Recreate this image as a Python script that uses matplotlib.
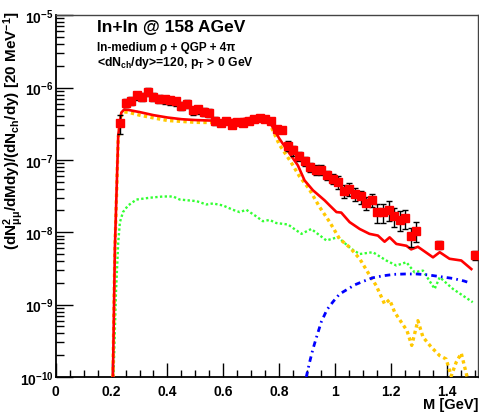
import matplotlib
matplotlib.use("Agg")
import matplotlib.pyplot as plt
import numpy as np
from matplotlib.ticker import MultipleLocator, LogLocator, NullFormatter

plt.rcParams['font.family'] = ['Liberation Sans', 'DejaVu Sans']
plt.rcParams['font.weight'] = 'bold'
plt.rcParams['mathtext.fontset'] = 'custom'
plt.rcParams['mathtext.rm'] = 'Liberation Sans:bold'
plt.rcParams['mathtext.it'] = 'Liberation Sans:bold'
plt.rcParams['mathtext.bf'] = 'Liberation Sans:bold'
plt.rcParams['mathtext.default'] = 'regular'

# measured dimuon excess points
mass = [0.23, 0.25, 0.27, 0.29, 0.31, 0.33, 0.35, 0.37, 0.39, 0.41,
        0.43, 0.45, 0.47, 0.49, 0.51, 0.53, 0.55, 0.57, 0.59, 0.61,
        0.63, 0.65, 0.67, 0.69, 0.71, 0.73, 0.75, 0.77, 0.79, 0.81,
        0.83, 0.85, 0.87, 0.89, 0.91, 0.93, 0.95, 0.97, 0.99, 1.01,
        1.03, 1.05, 1.07, 1.09, 1.11, 1.13, 1.15, 1.17, 1.19, 1.21,
        1.23, 1.25, 1.27, 1.29, 1.37, 1.50]
yield_data = [3.23e-7, 6.17e-7, 6.5e-7, 7.78e-7, 7.4e-7, 8.67e-7, 7.4e-7, 7.0e-7, 6.84e-7, 6.63e-7,
              6.43e-7, 5.55e-7, 5.97e-7, 4.82e-7, 4.97e-7, 4.58e-7, 4.44e-7, 3.44e-7, 3.26e-7, 3.4e-7,
              3.06e-7, 3.33e-7, 3.25e-7, 3.5e-7, 3.7e-7, 3.78e-7, 3.7e-7, 3.45e-7, 2.7e-7, 2.55e-7,
              1.58e-7, 1.35e-7, 1.13e-7, 9.6e-8, 7.9e-8, 7.36e-8, 7.36e-8, 6.2e-8, 5.5e-8, 4.93e-8,
              3.77e-8, 3.98e-8, 3.4e-8, 3.12e-8, 2.55e-8, 2.8e-8, 1.9e-8, 1.9e-8, 2.06e-8, 1.67e-8,
              1.5e-8, 1.58e-8, 8.8e-9, 1.05e-8, 6.7e-9, 4.8e-9]
rel_err = [0.30, 0.13, 0.13, 0.13, 0.13, 0.13, 0.13, 0.13, 0.13, 0.13,
           0.13, 0.13, 0.13, 0.13, 0.13, 0.13, 0.13, 0.13, 0.08, 0.08,
           0.08, 0.08, 0.08, 0.08, 0.08, 0.08, 0.08, 0.08, 0.08, 0.08,
           0.15, 0.15, 0.15, 0.15, 0.15, 0.15, 0.15, 0.15, 0.15, 0.20,
           0.20, 0.20, 0.20, 0.20, 0.20, 0.20, 0.30, 0.30, 0.30, 0.30,
           0.30, 0.30, 0.30, 0.30, 0.12, 0.15]

# total: in-medium rho + QGP + 4pi
red_m = [0.205, 0.212, 0.224, 0.235, 0.245, 0.26, 0.30, 0.35, 0.40, 0.45,
         0.50, 0.55, 0.60, 0.65, 0.70, 0.74, 0.765, 0.80, 0.835, 0.866,
         0.89, 0.92, 0.962, 0.98, 1.004, 1.021, 1.051, 1.087, 1.122, 1.152,
         1.176, 1.194, 1.218, 1.254, 1.271, 1.295, 1.349, 1.373, 1.408, 1.45, 1.486]
red_y = [1e-10, 6e-9, 2.2e-7, 4.5e-7, 4.96e-7, 4.9e-7, 4.58e-7, 4.15e-7, 3.85e-7, 3.65e-7,
         3.55e-7, 3.5e-7, 3.5e-7, 3.6e-7, 3.8e-7, 3.9e-7, 3.35e-7, 1.96e-7, 1.25e-7, 8.4e-8,
         5.2e-8, 3.8e-8, 2.75e-8, 2.34e-8, 1.9e-8, 1.87e-8, 1.38e-8, 1.11e-8, 9.5e-9, 9.0e-9,
         7.4e-9, 8.5e-9, 6.9e-9, 6.5e-9, 5.8e-9, 6.3e-9, 4.5e-9, 5.3e-9, 4.3e-9, 4.07e-9, 3.1e-9]

# in-medium rho
yel_m = [0.205, 0.212, 0.224, 0.235, 0.245, 0.26, 0.30, 0.35, 0.40, 0.45,
         0.50, 0.55, 0.60, 0.65, 0.70, 0.74, 0.765, 0.80, 0.84, 0.872,
         0.906, 0.944, 0.98, 1.015, 1.051, 1.087, 1.116, 1.146, 1.176, 1.194,
         1.212, 1.236, 1.256, 1.273, 1.295, 1.313, 1.343, 1.373, 1.396, 1.414,
         1.432, 1.45, 1.474, 1.49]
yel_y = [1e-10, 5.5e-9, 2.0e-7, 4.2e-7, 4.6e-7, 4.55e-7, 4.15e-7, 3.8e-7, 3.5e-7, 3.4e-7,
         3.3e-7, 3.28e-7, 3.35e-7, 3.5e-7, 3.7e-7, 3.8e-7, 3.2e-7, 1.62e-7, 9.5e-8, 5.9e-8,
         3.98e-8, 2.22e-8, 1.38e-8, 8.1e-9, 6.2e-9, 4.3e-9, 2.8e-9, 1.83e-9, 1.02e-9, 1.17e-9,
         7.85e-10, 5.7e-10, 4.37e-10, 2.73e-10, 6.0e-10, 3.57e-10, 2.58e-10, 1.97e-10, 1.77e-10, 1.03e-10,
         1.6e-10, 2.13e-10, 9e-11, 5e-11]

# QGP
grn_m = [0.207, 0.216, 0.224, 0.23, 0.241, 0.259, 0.289, 0.337, 0.384, 0.42,
         0.444, 0.504, 0.539, 0.563, 0.599, 0.634, 0.658, 0.682, 0.718, 0.741,
         0.765, 0.789, 0.831, 0.849, 0.879, 0.914, 0.968, 1.009, 1.057, 1.087,
         1.134, 1.182, 1.218, 1.254, 1.283, 1.313, 1.355, 1.373, 1.42, 1.456, 1.491]
grn_y = [1e-10, 1.5e-9, 7.3e-9, 1.38e-8, 1.9e-8, 2.34e-8, 2.83e-8, 3.0e-8, 3.12e-8, 3.12e-8,
         2.83e-8, 2.69e-8, 2.42e-8, 2.5e-8, 2.34e-8, 2.04e-8, 1.9e-8, 2.04e-8, 1.65e-8, 1.42e-8,
         1.48e-8, 1.34e-8, 1.28e-8, 1.14e-8, 9.5e-9, 1.11e-8, 7.7e-9, 8.55e-9, 5.9e-9, 5.0e-9,
         5.3e-9, 4.07e-9, 3.47e-9, 3.85e-9, 2.8e-9, 2.95e-9, 1.65e-9, 2.39e-9, 1.65e-9, 1.33e-9, 1.08e-9]

# 4 pi
blu_m = [0.896, 0.908, 0.92, 0.935, 0.95, 0.97, 0.992, 1.015, 1.04, 1.07,
         1.10, 1.134, 1.17, 1.21, 1.25, 1.29, 1.33, 1.37, 1.42, 1.46, 1.48]
blu_y = [1e-10, 1.6e-10, 2.44e-10, 3.8e-10, 5.8e-10, 8.5e-10, 1.1e-9, 1.4e-9, 1.6e-9, 1.88e-9,
         2.1e-9, 2.35e-9, 2.5e-9, 2.62e-9, 2.65e-9, 2.65e-9, 2.58e-9, 2.45e-9, 2.3e-9, 2.12e-9, 2.0e-9]

fig = plt.figure(figsize=(4.79, 4.14), dpi=100)
ax = fig.add_axes([0.116, 0.087, 0.882, 0.874])

ax.plot(grn_m, grn_y, color='#33ff33', lw=1.7, ls=(0, (1, 1)), zorder=2)
ax.plot(yel_m, yel_y, color='#ffc800', lw=2.4, ls=(0, (1, 1)), zorder=3)
ax.plot(blu_m, blu_y, color='#0000ff', lw=2.0, ls=(0, (2, 1.5, 0.6, 1.5)), zorder=3)
ax.plot(red_m, red_y, color='#ff0000', lw=1.9, zorder=4)

yerr = np.array(yield_data) * np.array(rel_err)
ax.errorbar(mass, yield_data, yerr=yerr, fmt='s', color='#ff0000', ms=5.5,
            mec='#ff0000', ecolor='black', elinewidth=1.0, capsize=2.2,
            capthick=1.0, zorder=5)

ax.set_yscale('log')
ax.set_xlim(0, 1.51)
ax.set_ylim(1e-10, 1e-5)

ax.xaxis.set_major_locator(MultipleLocator(0.2))
ax.xaxis.set_minor_locator(MultipleLocator(0.05))
ax.yaxis.set_major_locator(LogLocator(base=10))
ax.yaxis.set_minor_locator(LogLocator(base=10, subs=np.arange(2, 10)))
ax.yaxis.set_minor_formatter(NullFormatter())
ax.xaxis.set_major_formatter(matplotlib.ticker.FuncFormatter(
    lambda v, p: '0' if abs(v) < 1e-9 else ('%g' % v)))

ax.tick_params(axis='both', which='both', direction='in', top=False, right=False)
ax.tick_params(axis='x', which='major', length=10, width=1, pad=5, labelsize=10)
ax.tick_params(axis='x', which='minor', length=5, width=1)
ax.tick_params(axis='y', which='major', length=12, width=1, pad=1.5, labelsize=10)
ax.tick_params(axis='y', which='minor', length=6, width=1)
for lab in ax.get_xticklabels() + ax.get_yticklabels():
    lab.set_fontweight('bold')

for side in ['left', 'bottom']:
    ax.spines[side].set_linewidth(1.3)
for side in ['top', 'right']:
    ax.spines[side].set_linewidth(1.0)
    ax.spines[side].set_color('#444444')

fig.text(0.2025, 0.923, 'In+In @ 158 AGeV', fontsize=12.5, fontweight='bold', va='baseline')
fig.text(0.2025, 0.876, 'In-medium \u03c1 + QGP + 4\u03c0', fontsize=8.5, fontweight='bold', va='baseline')
fig.text(0.2025, 0.840, r'<dN$_{ch}$/dy>=120, p$_{T}$ > 0 GeV', fontsize=8.8,
         fontweight='bold', va='baseline')

fig.text(0.029, 0.972, r'(dN$^{2}_{\mu\mu}$/dMdy)/(dN$_{ch}$/dy) [20 MeV$^{-1}$]',
         rotation=90, ha='center', va='top', fontsize=11, fontweight='bold')
fig.text(0.998, 0.006, 'M [GeV]', ha='right', va='bottom', fontsize=10.5, fontweight='bold')

fig.savefig('out.png', dpi=100)
